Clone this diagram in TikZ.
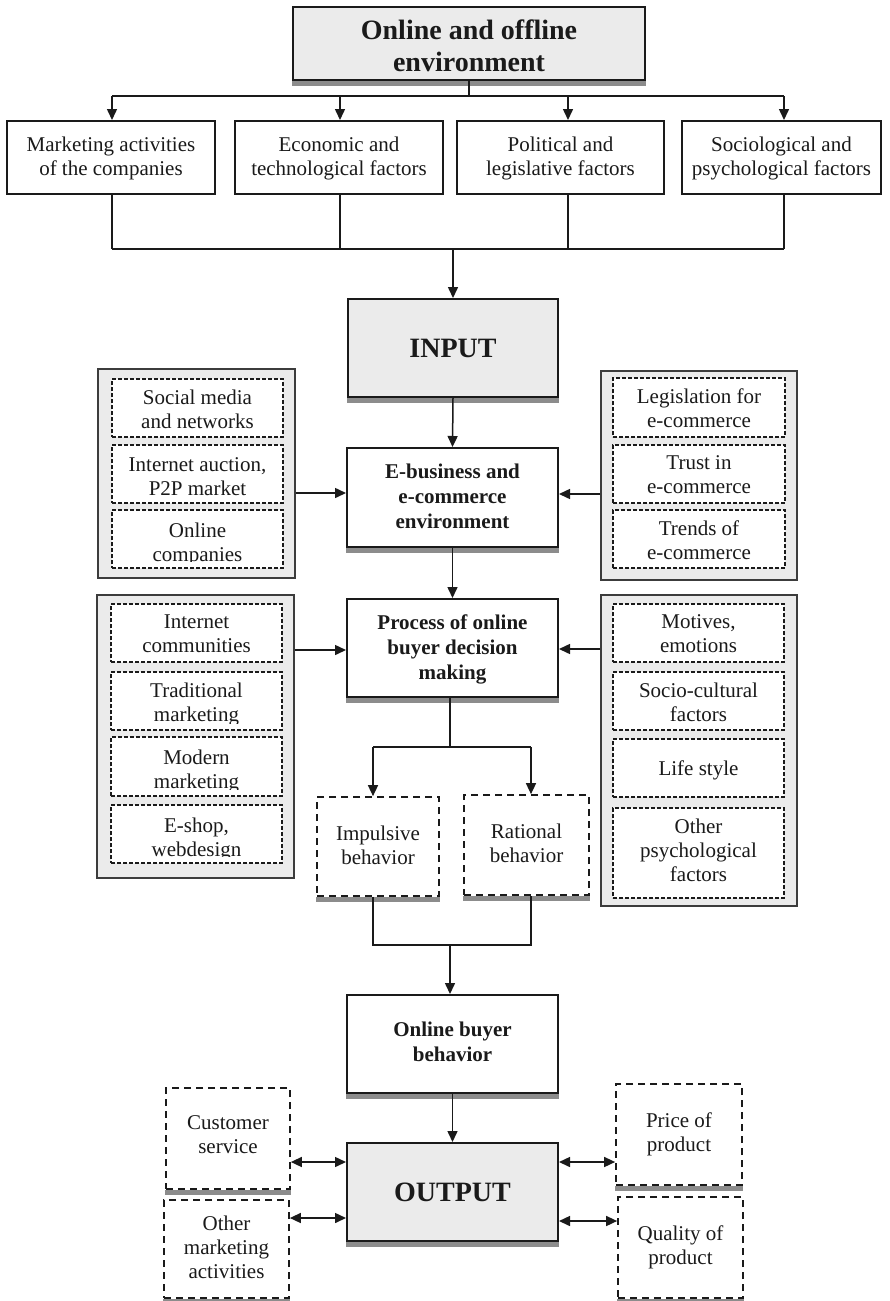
\documentclass[tikz,border=0pt]{standalone}
\usepackage{fontspec}
\setmainfont{Liberation Serif}
\usetikzlibrary{arrows.meta,calc}
\definecolor{boxgrey}{HTML}{EBEBEB}
\definecolor{shadowgrey}{HTML}{8C8C8C}
\definecolor{inkblack}{HTML}{1A1A1A}
\newcommand{\fnorm}{\fontsize{21}{24}\selectfont}
\newcommand{\fbold}{\fontsize{21}{25}\selectfont\bfseries}
\newcommand{\fbig}{\fontsize{28}{32}\selectfont\bfseries}
% box with separate text node: style, name, cx, cy, w, h, yshift, font, text
\newcommand{\bx}[9]{%
  \node[#1, minimum width=#5pt, minimum height=#6pt] (#2) at (#3,#4) {};
  \node[txt, font=#8, yshift=#7pt] (#2-t) at (#2) {#9};}
% inner dashed box with clipped text: name, cx, cy, w, h, yshift, text
\newcommand{\ib}[7]{%
  \node[innerbox, minimum width=#4pt, minimum height=#5pt] (#1) at (#2,#3) {};
  \begin{scope}
    \clip ([yshift=7pt]#1.south west) rectangle (#1.north east);
    \node[txt, font=\fnorm, yshift=#6pt] (#1-t) at (#1) {#7};
  \end{scope}}
\newcommand{\shd}[1]{\fill[shadowgrey] ([yshift=-0.4pt]#1.south west) rectangle ([yshift=-5pt]#1.south east);}
\begin{document}
\begin{tikzpicture}[x=1pt,y=-1pt,
  txt/.style={inner sep=0pt, align=center, text=inkblack},
  solidbox/.style={draw=inkblack, line width=2pt, inner sep=0pt, fill=white},
  greybox/.style={solidbox, fill=boxgrey},
  groupbox/.style={draw=inkblack!85, line width=1.4pt, fill=boxgrey, inner sep=0pt},
  innerbox/.style={draw=inkblack, line width=1.4pt, dash pattern=on 4pt off 2pt, fill=white, inner sep=0pt},
  behbox/.style={draw=inkblack, line width=1.7pt, dash pattern=on 7pt off 5pt, fill=white, inner sep=0pt},
  conn/.style={line width=1.5pt, draw=inkblack},
  arr/.style={conn, -{Triangle[length=11pt,width=10pt]}},
  darr/.style={conn, {Triangle[length=11pt,width=10pt]}-{Triangle[length=11pt,width=10pt]}},
]
\useasboundingbox[fill=white] (0,0) rectangle (889,1301);

% ---- top ----
\bx{greybox}{top}{469}{43.5}{352}{73}{-2}{\fbig}{Online and offline\\environment}
\shd{top}
\bx{solidbox}{f1}{111}{157.5}{208}{73}{-1}{\fnorm}{Marketing activities\\of the companies}
\bx{solidbox}{f2}{339}{157.5}{208}{73}{-1}{\fnorm}{Economic and\\technological factors}
\bx{solidbox}{f3}{560.5}{157.5}{207}{73}{-1}{\fnorm}{Political and\\legislative factors}
\bx{solidbox}{f4}{781.5}{157.5}{199}{73}{-1}{\fnorm}{Sociological and\\psychological factors}

% ---- input ----
\bx{greybox}{in}{453}{348}{210}{98}{0}{\fbig}{INPUT}
\shd{in}

% ---- group 1 ----
\node[groupbox, minimum width=197pt, minimum height=209pt] (lg1) at (196.5,473.5) {};
\ib{la}{197.5}{408}{171}{58}{-1}{Social media\\and networks}
\ib{lb}{197.5}{474}{171}{58}{-3}{Internet auction,\\P2P market}
\ib{lc}{197.5}{539}{171}{58}{-5}{Online\\companies}
\node[groupbox, minimum width=196pt, minimum height=209pt] (rg1) at (699,475.5) {};
\ib{ra}{699}{407.5}{172}{59}{-1}{Legislation for\\e-commerce}
\ib{rb}{699}{474}{172}{58}{-1}{Trust in\\e-commerce}
\ib{rc}{699}{539}{172}{58}{-1}{Trends of\\e-commerce}

\bx{solidbox}{eb}{452.5}{497.5}{211}{99}{1.5}{\fbold}{E-business and\\e-commerce\\environment}
\shd{eb}

% ---- group 2 ----
\node[groupbox, minimum width=197pt, minimum height=283pt] (lg2) at (195.5,736.5) {};
\ib{lg2a}{196.5}{633}{171}{58}{-1}{Internet\\communities}
\ib{lg2b}{196.5}{701}{171}{58}{-3.5}{Traditional\\marketing}
\ib{lg2c}{196.5}{766.5}{171}{59}{-5}{Modern\\marketing}
\ib{lg2d}{196.5}{834}{171}{58}{-5}{E-shop,\\webdesign}
\node[groupbox, minimum width=196pt, minimum height=311pt] (rg2) at (699,750.5) {};
\ib{rg2a}{698.5}{633}{171}{58}{-1}{Motives,\\emotions}
\ib{rg2b}{698.5}{701}{171}{58}{-1.5}{Socio-cultural\\factors}
\ib{rg2c}{698.5}{768}{171}{58}{-2}{Life style}
\ib{rg2d}{698.5}{853}{171}{90}{3}{Other\\psychological\\factors}

\bx{solidbox}{pr}{452.5}{648}{211}{98}{-1.5}{\fbold}{Process of online\\buyer decision\\making}
\shd{pr}

% ---- behaviours ----
\bx{behbox}{imp}{378}{846.5}{122}{99}{1.5}{\fnorm}{Impulsive\\behavior}
\shd{imp}
\bx{behbox}{rat}{526.5}{845}{125}{100}{2}{\fnorm}{Rational\\behavior}
\shd{rat}

% ---- online buyer / output ----
\bx{solidbox}{ob}{452.5}{1044}{211}{98}{2}{\fbold}{Online buyer\\behavior}
\shd{ob}
\bx{greybox}{out}{452.5}{1192}{211}{98}{0}{\fbig}{OUTPUT}
\shd{out}
\bx{behbox}{cs}{228}{1138.5}{124}{101}{3.5}{\fnorm}{Customer\\service}
\shd{cs}
\bx{behbox}{om}{226.5}{1249}{125}{98}{2}{\fnorm}{Other\\marketing\\activities}
\shd{om}
\bx{behbox}{pp}{679}{1134.5}{126}{101}{0}{\fnorm}{Price of\\product}
\shd{pp}
\bx{behbox}{qp}{680.5}{1247.5}{125}{101}{0}{\fnorm}{Quality of\\product}
\shd{qp}

% ---- connectors ----
\coordinate (t1) at (112,96);
\coordinate (t2) at (340,96);
\coordinate (t3) at (568,96);
\coordinate (t4) at (784,96);
\coordinate (u1) at (112,249);
\coordinate (u2) at (340,249);
\coordinate (u3) at (568,249);
\coordinate (u4) at (784,249);
\draw[conn] (top.south) -- (top.south |- t1);
\draw[conn] (t1) -- (t4);
\draw[arr] (t1) -- (t1 |- f1.north);
\draw[arr] (t2) -- (t2 |- f2.north);
\draw[arr] (t3) -- (t3 |- f3.north);
\draw[arr] (t4) -- (t4 |- f4.north);
\draw[conn] (t1 |- f1.south) -- (u1);
\draw[conn] (t2 |- f2.south) -- (u2);
\draw[conn] (t3 |- f3.south) -- (u3);
\draw[conn] (t4 |- f4.south) -- (u4);
\draw[conn] (u1) -- (u4);
\draw[arr] (in.north |- u1) -- (in.north);
\draw[arr] (in.south) -- (eb.north);
\draw[arr] (eb.south) -- (pr.north);

\coordinate (a1) at (0,493);
\coordinate (a2) at (0,494);
\coordinate (a3) at (0,650);
\coordinate (a4) at (0,649);
\draw[arr] (lg1.east |- a1) -- (eb.west |- a1);
\draw[arr] (rg1.west |- a2) -- (eb.east |- a2);
\draw[arr] (lg2.east |- a3) -- (pr.west |- a3);
\draw[arr] (rg2.west |- a4) -- (pr.east |- a4);

\coordinate (sp) at (450,747);
\coordinate (spL) at (373,747);
\coordinate (spR) at (531,747);
\draw[conn] (sp |- pr.south) -- (sp);
\draw[conn] (spL) -- (spR);
\draw[arr] (spL) -- (spL |- imp.north);
\draw[arr] (spR) -- (spR |- rat.north);

\coordinate (jL) at (373,945);
\coordinate (jR) at (531,945);
\coordinate (jC) at (450,945);
\draw[conn] (jL |- imp.south) -- (jL) -- (jR) -- (jR |- rat.south);
\draw[arr] (jC) -- (jC |- ob.north);
\draw[arr] (ob.south) -- (out.north);

\coordinate (d1) at (0,1162);
\coordinate (d2) at (0,1218);
\coordinate (d3) at (0,1162);
\coordinate (d4) at (0,1221);
\draw[darr] (cs.east |- d1) -- (out.west |- d1);
\draw[darr] (om.east |- d2) -- (out.west |- d2);
\draw[darr] (out.east |- d3) -- (pp.west |- d3);
\draw[darr] (out.east |- d4) -- (qp.west |- d4);
\end{tikzpicture}
\end{document}
